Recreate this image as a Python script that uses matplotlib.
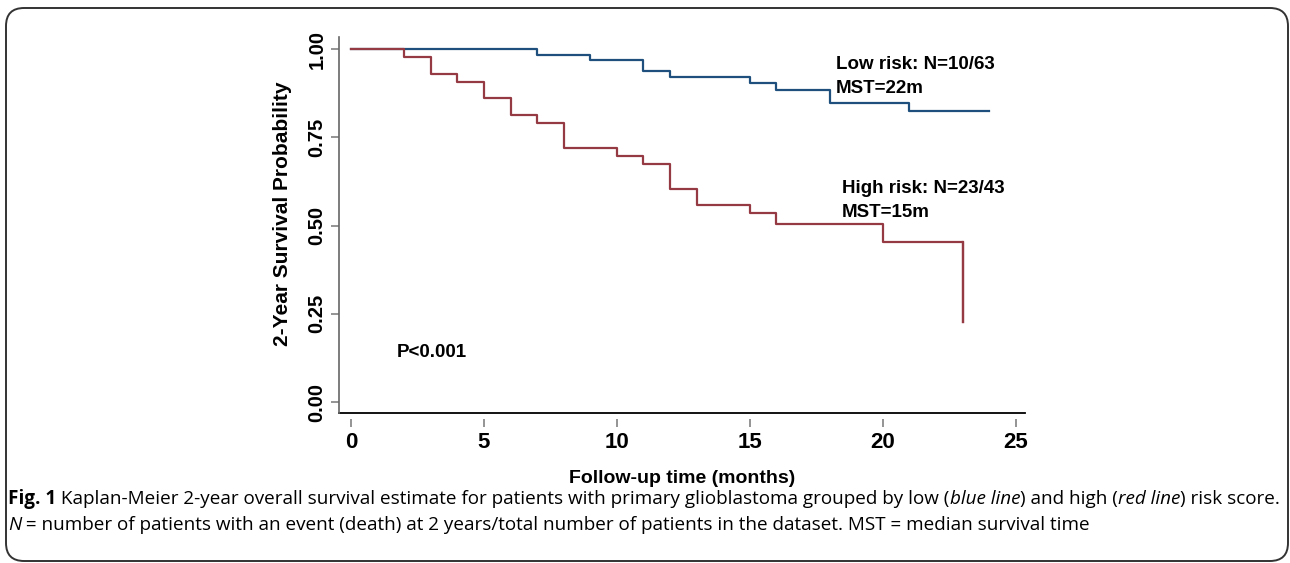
import matplotlib
matplotlib.use("Agg")
import matplotlib.pyplot as plt
from matplotlib.patches import FancyBboxPatch

# ── Kaplan-Meier step data ───────────────────────────────────────────────────
low_t  = [0, 7, 9, 11, 12, 15, 16, 18, 21, 24]
low_s  = [1.0, 0.984, 0.968, 0.937, 0.921, 0.905, 0.885, 0.847, 0.824, 0.824]
high_t = [0, 2, 3, 4, 5, 6, 7, 8, 10, 11, 12, 13, 15, 16, 20, 23]
high_s = [1.0, 0.977, 0.930, 0.907, 0.860, 0.814, 0.791, 0.721, 0.698,
          0.674, 0.604, 0.558, 0.535, 0.504, 0.454, 0.227]

x_ticks = [0, 5, 10, 15, 20, 25]
y_ticks = [0.0, 0.25, 0.50, 0.75, 1.0]
y_ticklabels = ['0.00', '0.25', '0.50', '0.75', '1.00']

BLUE = '#1f4f7c'
RED  = '#953a42'
AXF  = ['Liberation Sans Narrow', 'Liberation Sans', 'DejaVu Sans']
LBF  = ['Liberation Sans', 'DejaVu Sans']
CAPF = ['Open Sans', 'DejaVu Sans']

W, H = 1290, 563
fig = plt.figure(figsize=(W / 100, H / 100), dpi=100)
ax = fig.add_axes([339 / W, 1 - 413 / H, (1025 - 339) / W, (413 - 37) / H])

ax.step(low_t, low_s, where='post', color=BLUE, lw=1.6)
ax.step(high_t, high_s, where='post', color=RED, lw=1.6)
# final drop of high-risk curve
ax.plot([high_t[-1], high_t[-1]], [high_s[-2], high_s[-1]], color=RED, lw=1.6)

ax.set_xlim(-0.45, 25.35)
ax.set_ylim(-0.031, 1.034)
ax.set_xticks(x_ticks)
ax.set_yticks(y_ticks)
ax.set_yticklabels(y_ticklabels, rotation=90, va='center')

for sp in ['top', 'right']:
    ax.spines[sp].set_visible(False)
ax.spines['left'].set_color('#666')
ax.spines['left'].set_linewidth(1.2)
ax.spines['bottom'].set_position(('outward', 4))
ax.spines['bottom'].set_visible(False)
ax.axhline(ax.get_ylim()[0], color='black', lw=1.3, clip_on=False)

ax.tick_params(axis='both', direction='out', length=6, width=1.1, color='#777')
ax.tick_params(axis='x', pad=4)
ax.tick_params(axis='y', pad=3)
for lab in ax.get_xticklabels():
    lab.set_family(AXF)
    lab.set_fontweight('bold')
    lab.set_fontsize(16)
for lab in ax.get_yticklabels():
    lab.set_family(AXF)
    lab.set_fontweight('bold')
    lab.set_fontsize(14.5)

ax.set_ylabel('2-Year Survival Probability', family=LBF, fontweight='bold',
              fontsize=15)
ax.yaxis.set_label_coords(-0.068, 0.53)
ax.set_xlabel('Follow-up time (months)', family=AXF, fontweight='bold',
              fontsize=14, labelpad=12)

txt = dict(family=LBF, fontweight='bold', fontsize=13.5, va='baseline',
           linespacing=1.5)
ax.text(18.23, 0.876, 'Low risk: N=10/63\nMST=22m', **txt)
ax.text(18.46, 0.525, 'High risk: N=23/43\nMST=15m', **txt)
ax.text(1.73, 0.128, 'P<0.001', **txt)

# ── caption with mixed styles ───────────────────────────────────────────────
renderer = fig.canvas.get_renderer()
CAPSIZE = 13.6

def write_line(pieces, x0, y0):
    x = x0
    for s, style in pieces:
        kw = dict(family=CAPF, fontsize=CAPSIZE, va='baseline', ha='left',
                  transform=None)
        if style == 'b':
            kw['fontweight'] = 'bold'
        if style == 'i':
            kw['style'] = 'italic'
        t = fig.text(x, H - y0, s, **kw)
        bb = t.get_window_extent(renderer)
        x = bb.x1

write_line([('Fig. 1', 'b'),
            (' Kaplan-Meier 2-year overall survival estimate for patients with primary '
             'glioblastoma grouped by low (', 'n'),
            ('blue line', 'i'), (') and high (', 'n'), ('red line', 'i'),
            (') risk score.', 'n')], 8, 504)
write_line([('N', 'i'),
            (' = number of patients with an event (death) at 2 years/total number of '
             'patients in the dataset. MST = median survival time', 'n')], 8, 530)

box = FancyBboxPatch((6 / W, 1 - 561 / H), (1288 - 6) / W, (561 - 8) / H,
                     boxstyle='round,pad=0,rounding_size=0.014',
                     transform=fig.transFigure, fill=False,
                     edgecolor='#333', lw=1.4, mutation_aspect=W / H)
fig.patches.append(box)

fig.savefig('out.png', dpi=100)
